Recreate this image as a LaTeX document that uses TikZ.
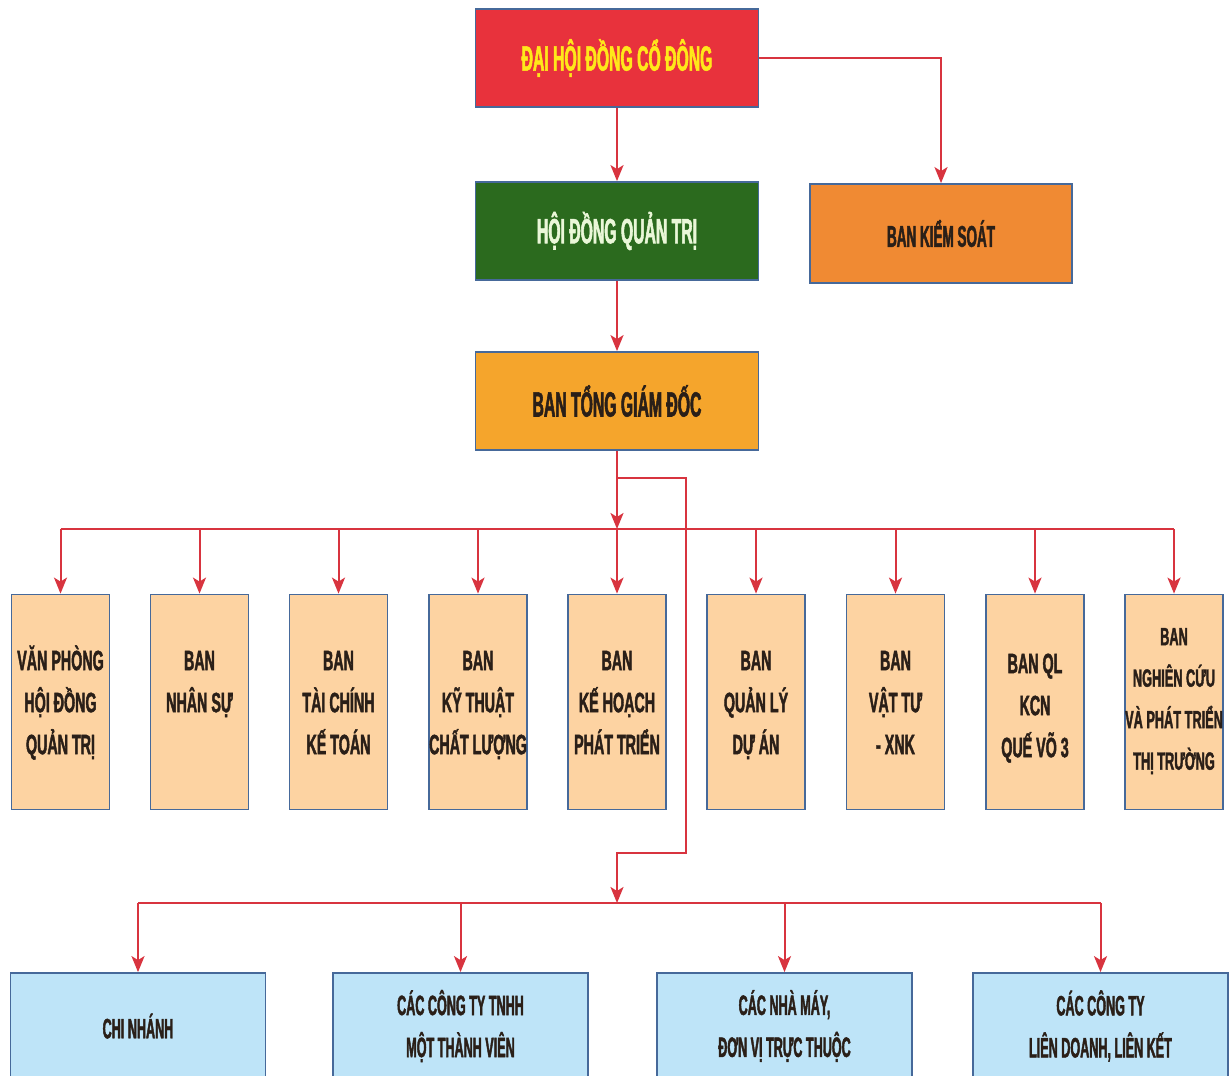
\documentclass[tikz,border=0pt]{standalone}
\usepackage{fontspec}
\setmainfont{Liberation Sans}
\newfontfamily\condA[FakeStretch=0.51,FakeBold=1.5]{Liberation Sans}
\newfontfamily\condB[FakeStretch=0.45,FakeBold=1.5]{Liberation Sans}
\usetikzlibrary{arrows.meta}
\definecolor{redfill}{HTML}{E8323C}
\definecolor{yellowtxt}{HTML}{FFE81A}
\definecolor{greenfill}{HTML}{2B6A1E}
\definecolor{greentxt}{HTML}{EAF7D8}
\definecolor{orangefill}{HTML}{F08A33}
\definecolor{ambfill}{HTML}{F5A52C}
\definecolor{peach}{HTML}{FDD3A2}
\definecolor{lightblue}{HTML}{BEE4F8}
\definecolor{boxborder}{HTML}{46699A}
\definecolor{linered}{HTML}{D8343F}
\definecolor{darktext}{HTML}{2A1F18}
\begin{document}
\begin{tikzpicture}[x=1pt,y=-1pt,
  box/.style={draw=boxborder, line width=1.8pt, inner sep=0pt, align=center},
  topbox/.style={box, minimum width=283pt, minimum height=98pt, font=\condB\bfseries\fontsize{35}{40}\selectfont},
  dept/.style={box, fill=peach, minimum width=98pt, minimum height=215pt},
  depttxt/.style={anchor=north, inner sep=0pt, align=center, text=darktext, font=\condA\bfseries\fontsize{28}{42}\selectfont},
  unitbox/.style={box, fill=lightblue, minimum width=255pt, minimum height=106pt, text=darktext, font=\condB\bfseries\fontsize{28}{42}\selectfont},
  conn/.style={draw=linered, line width=2pt},
  arr/.style={conn, -{Stealth[length=16pt,width=13pt,inset=4pt]}}]
\useasboundingbox (0,0) rectangle (1230,1075);
\fill[white] (0,0) rectangle (1230,1075);
\clip (0,0) rectangle (1230,1075);

% top levels
\node[topbox, fill=redfill, text=yellowtxt] (dhcd) at (617,58) {ĐẠI HỘI ĐỒNG CỔ ĐÔNG};
\node[topbox, fill=greenfill, text=greentxt] (hdqt) at (617,231) {HỘI ĐỒNG QUẢN TRỊ};
\node[box, fill=orangefill, minimum width=262pt, minimum height=99pt, text=darktext,
      font=\condB\bfseries\fontsize{30}{36}\selectfont] (bks) at (941,233.5) {BAN KIỂM SOÁT};
\node[topbox, fill=ambfill, text=darktext] (tgd) at (617,401) {BAN TỔNG GIÁM ĐỐC};

% departments
\node[dept] (b1) at (60.5,702) {};
\node[dept] (b2) at (199.5,702) {};
\node[dept] (b3) at (338.5,702) {};
\node[dept] (b4) at (478,702) {};
\node[dept] (b5) at (617,702) {};
\node[dept] (b6) at (756,702) {};
\node[dept] (b7) at (895.5,702) {};
\node[dept] (b8) at (1035,702) {};
\node[dept] (b9) at (1174,702) {};

\node[depttxt] (t1) at (60.5,640) {\rule{0pt}{30pt}VĂN PHÒNG\\HỘI ĐỒNG\\QUẢN TRỊ};
\node[depttxt] (t2) at (199.5,640) {\rule{0pt}{30pt}BAN\\NHÂN SỰ};
\node[depttxt] (t3) at (338.5,640) {\rule{0pt}{30pt}BAN\\TÀI CHÍNH\\KẾ TOÁN};
\node[depttxt] (t4) at (478,640) {\rule{0pt}{30pt}BAN\\KỸ THUẬT\\CHẤT LƯỢNG};
\node[depttxt] (t5) at (617,640) {\rule{0pt}{30pt}BAN\\KẾ HOẠCH\\PHÁT TRIỂN};
\node[depttxt] (t6) at (756,640) {\rule{0pt}{30pt}BAN\\QUẢN LÝ\\DỰ ÁN};
\node[depttxt] (t7) at (895.5,640) {\rule{0pt}{30pt}BAN\\VẬT TƯ\\- XNK};
\node[depttxt] (t8) at (1035,643) {\rule{0pt}{30pt}BAN QL\\KCN\\QUẾ VÕ 3};
\node[depttxt, font=\condA\bfseries\fontsize{25}{41.5}\selectfont] (t9) at (1174,617) {\rule{0pt}{28pt}BAN\\NGHIÊN CỨU\\VÀ PHÁT TRIỂN\\THỊ TRƯỜNG};

% units
\node[unitbox] (u1) at (138,1026) {CHI NHÁNH};
\node[unitbox] (u2) at (460.5,1026) {CÁC CÔNG TY TNHH\\MỘT THÀNH VIÊN};
\node[unitbox] (u3) at (784.5,1026) {CÁC NHÀ MÁY,\\ĐƠN VỊ TRỰC THUỘC};
\node[unitbox] (u4) at (1100.5,1026) {CÁC CÔNG TY\\LIÊN DOANH, LIÊN KẾT};

% connectors
\coordinate (bus1) at (617,529);
\coordinate (bus2) at (617,903);
\coordinate (k1) at (686,478);
\coordinate (k2) at (686,853);

\draw[arr] (dhcd.south) -- (hdqt.north);
\draw[arr] (dhcd.east) -| (bks.north);
\draw[arr] (hdqt.south) -- (tgd.north);
\draw[arr] (tgd.south) -- (bus1);
\draw[conn] (b1.north |- bus1) -- (b9.north |- bus1);
\foreach \i in {1,...,9} \draw[arr] (b\i.north |- bus1) -- (b\i.north);
\draw[arr] (tgd.south |- k1) -- (k1) -- (k2) -- (tgd.south |- k2) -- (bus2);
\draw[conn] (u1.north |- bus2) -- (u4.north |- bus2);
\foreach \i in {1,...,4} \draw[arr] (u\i.north |- bus2) -- (u\i.north);
\end{tikzpicture}
\end{document}
